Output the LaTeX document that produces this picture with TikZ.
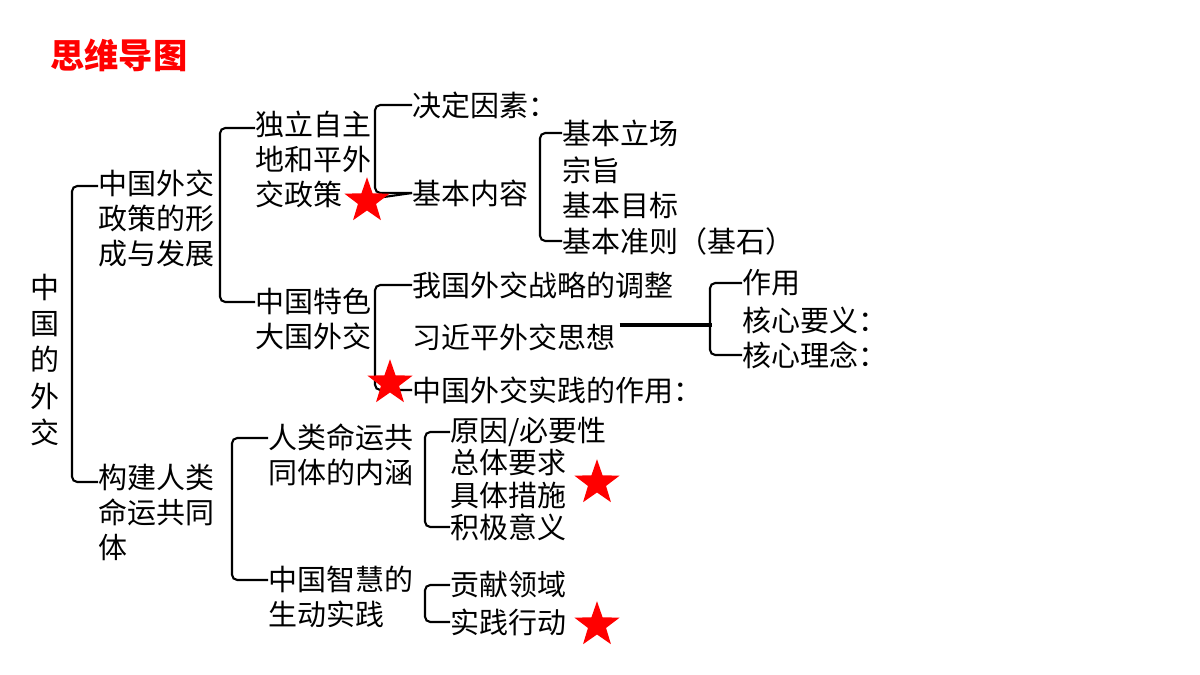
\documentclass[tikz,border=0pt]{standalone}
\usepackage{fontspec}
\usepackage{tikz}
\usetikzlibrary{calc,shapes.geometric}
\newfontfamily\cjk{Noto Sans CJK SC}
\begin{document}
\begin{tikzpicture}[x=0.02cm,y=-0.02cm,
  txt/.style={anchor=west,inner sep=0pt,font=\cjk\fontsize{16.5}{19.9}\selectfont},
  blk/.style={anchor=north west,inner sep=0pt,align=left,font=\cjk\fontsize{16.5}{19.9}\selectfont},
  brk/.style={line width=1.2pt,rounded corners=3pt},
  redstar/.style={star,star points=5,star point ratio=2.5,fill=red,draw=none,minimum size=0.95cm,inner sep=0pt}]
  \useasboundingbox (0,0) rectangle (1200,675);

  \node[anchor=west,inner sep=0pt,text=red,font=\cjk\bfseries\fontsize{19.5}{22}\selectfont] (title) at (50,55) {思维导图};

  \node[inner sep=0pt,align=center,font=\cjk\fontsize{16.5}{20.5}\selectfont] (root) at (45,360) {中\\国\\的\\外\\交};

  % level 1
  \node[blk] (zc) at (98,170) {中国外交\\政策的形\\成与发展};
  \node[blk] (gj) at (98,464) {构建人类\\命运共同\\体};
  \draw[brk] ($(zc.north west)+(0,16)$) -- ++(-26,0) |- ($(gj.north west)+(0,18)$);

  % level 2 (upper)
  \node[blk] (dl) at (255,111) {独立自主\\地和平外\\交政策};
  \node[blk] (ts) at (255,288) {中国特色\\大国外交};
  \draw[brk] ($(dl.north west)+(0,17)$) -- ++(-35,0) |- ($(ts.north west)+(0,14)$);

  % independent peaceful policy
  \node[txt] (jd) at (412,105) {决定因素：};
  \node[txt] (nr) at (412,193) {基本内容};
  \draw[brk] (jd.west) -- ++(-37,0) |- (nr.west);
  \draw[brk] (370,199) -- (nr.west);
  \node[txt] (lc) at (562,133) {基本立场};
  \node[txt] (zz) at (562,170) {宗旨};
  \node[txt] (mb) at (562,205) {基本目标};
  \node[txt] (zz2) at (562,241) {基本准则（基石）};
  \draw[brk] (lc.west) -- ++(-22,0) |- (zz2.west);

  % major-country diplomacy
  \node[txt] (tz) at (412,285) {我国外交战略的调整};
  \node[txt] (sx) at (412,337) {习近平外交思想};
  \node[txt] (sj) at (412,390) {中国外交实践的作用：};
  \draw[brk] (tz.west) -- ++(-37,0) |- (sj.west);
  \node[txt] (zy) at (742,283) {作用};
  \node[txt] (yy) at (742,320) {核心要义：};
  \node[txt] (ln) at (742,355) {核心理念：};
  \draw[line width=2pt] ($(sx.east)+(4,-12)$) -- (712,325);
  \draw[brk] (zy.west) -- ++(-32,0) |- (ln.west);

  % level 2 (lower)
  \node[blk] (nh) at (268,423) {人类命运共\\同体的内涵};
  \node[blk] (zh) at (268,566) {中国智慧的\\生动实践};
  \draw[brk] ($(nh.north west)+(0,15)$) -- ++(-36,0) |- ($(zh.north west)+(0,14)$);
  \node[txt] (yx) at (450,432) {原因/必要性};
  \node[txt] (yq) at (450,463) {总体要求};
  \node[txt] (cs) at (450,495) {具体措施};
  \node[txt] (yi) at (450,527) {积极意义};
  \draw[brk] (yx.west) -- ++(-25,0) |- (yi.west);
  \node[txt] (ly) at (450,585) {贡献领域};
  \node[txt] (xd) at (450,622) {实践行动};
  \draw[brk] (ly.west) -- ++(-25,0) |- (xd.west);

  % stars
  \node[redstar] (s1) at (367,201) {};
  \node[redstar] (s2) at (390,383) {};
  \node[redstar] (s3) at (597,483) {};
  \node[redstar] (s4) at (597,625) {};
\end{tikzpicture}
\end{document}
